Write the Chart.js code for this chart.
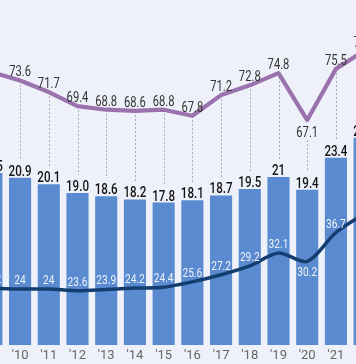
<!DOCTYPE html>
<html><head><meta charset="utf-8">
<script src="https://cdn.jsdelivr.net/npm/chart.js@4.4.0/dist/chart.umd.min.js"></script>
<style>
html,body{margin:0;padding:0;width:356px;height:364px;overflow:hidden;background:#eef1f9;}
#wrap{position:absolute;left:-23px;top:0;width:402px;height:364px;}
</style></head><body>
<div id="wrap"><canvas id="c" width="402" height="364"></canvas></div>
<script>
const years = ["'09","'10","'11","'12","'13","'14","'15","'16","'17","'18","'19","'20","'21","'22"];
const barValues = [21.5, 20.9, 20.1, 19.0, 18.6, 18.2, 17.8, 18.1, 18.7, 19.5, 21, 19.4, 23.4, 25.9];
const barLabels = ["21.5","20.9","20.1","19.0","18.6","18.2","17.8","18.1","18.7","19.5","21","19.4","23.4","25.9"];
const navyValues = [24.2, 24, 24, 23.6, 23.9, 24.2, 24.4, 25.6, 27.2, 29.2, 32.1, 30.2, 36.7, 41.0];
const purpleValues = [75.0, 73.6, 71.7, 69.4, 68.8, 68.6, 68.8, 67.8, 71.2, 72.8, 74.8, 67.1, 75.5, 78.5];

const FONT = "Roboto, 'Noto Sans', sans-serif";

function isDip(arr, i){
  if (i <= 0 || i >= arr.length - 1) return false;
  return (arr[i-1] - arr[i]) > 1.5 && (arr[i+1] - arr[i]) > 1.5;
}

function narrowText(ctx, text, x, y, sx){
  ctx.save();
  ctx.translate(x, y);
  ctx.scale(sx, 1);
  ctx.fillText(text, 0, 0);
  ctx.restore();
}

const labelPlugin = {
  id: 'labels',
  beforeDatasetsDraw(chart){
    const ctx = chart.ctx;
    const bars = chart.getDatasetMeta(0).data;
    const pts = chart.getDatasetMeta(2).data;
    ctx.save();
    ctx.strokeStyle = '#a9abb3';
    ctx.lineWidth = 1;
    ctx.setLineDash([2,2]);
    for (let i = 0; i < pts.length; i++){
      const x = Math.round(pts[i].x) + 0.5;
      const y1 = pts[i].y + (isDip(purpleValues, i) ? 20 : 4);
      const y2 = bars[i].y - 18;
      ctx.beginPath(); ctx.moveTo(x, y1); ctx.lineTo(x, y2); ctx.stroke();
    }
    ctx.restore();
  },
  afterDatasetsDraw(chart){
    const ctx = chart.ctx;
    const bars = chart.getDatasetMeta(0).data;
    const navy = chart.getDatasetMeta(1).data;
    const pur = chart.getDatasetMeta(2).data;
    ctx.save();
    ctx.textAlign = 'center';
    ctx.textBaseline = 'alphabetic';
    ctx.font = '500 14.5px ' + FONT;
    ctx.fillStyle = '#141414';
    bars.forEach((b, i) => narrowText(ctx, barLabels[i], b.x, b.y - 2, 0.8));
    ctx.font = '14px ' + FONT;
    ctx.fillStyle = '#333333';
    pur.forEach((p, i) => {
      const below = isDip(purpleValues, i);
      narrowText(ctx, String(purpleValues[i]), p.x, below ? p.y + 17 : p.y - 4, 0.8);
    });
    ctx.font = '13px ' + FONT;
    ctx.fillStyle = 'rgba(255,255,255,0.9)';
    navy.forEach((p, i) => {
      const below = isDip(navyValues, i);
      narrowText(ctx, String(navyValues[i]), p.x, below ? p.y + 15 : p.y - 5, 0.78);
    });
    ctx.restore();
  }
};

new Chart(document.getElementById('c'), {
  data: {
    labels: years,
    datasets: [
      { type: 'bar', data: barValues, backgroundColor: '#5a8ad0', yAxisID: 'y', order: 2,
        barPercentage: 0.77, categoryPercentage: 1.0 },
      { type: 'line', data: navyValues, borderColor: '#143e70', borderWidth: 3.5, pointRadius: 0,
        tension: 0.3, yAxisID: 'yNavy', order: 1 },
      { type: 'line', data: purpleValues, borderColor: '#9a72ae', borderWidth: 4.2, pointRadius: 0,
        tension: 0, borderJoinStyle: 'round', yAxisID: 'yPurple', order: 0 }
    ]
  },
  options: {
    responsive: false,
    animation: false,
    devicePixelRatio: 1,
    layout: { padding: 0 },
    plugins: { legend: { display: false }, tooltip: { enabled: false }, title: { display: false } },
    scales: {
      x: {
        offset: true,
        grid: { display: false, drawTicks: false },
        border: { display: false },
        ticks: { color: '#666', font: { family: FONT, size: 13 }, padding: 3, maxRotation: 0, autoSkip: false },
        afterFit(s){ s.height = 19; }
      },
      y: { display: false, min: 0, max: 43.125 },
      yNavy: { display: false, min: 11.4, max: 89.0 },
      yPurple: { display: false, min: 30.2, max: 86.8 }
    }
  },
  plugins: [labelPlugin]
});
</script>
</body></html>
